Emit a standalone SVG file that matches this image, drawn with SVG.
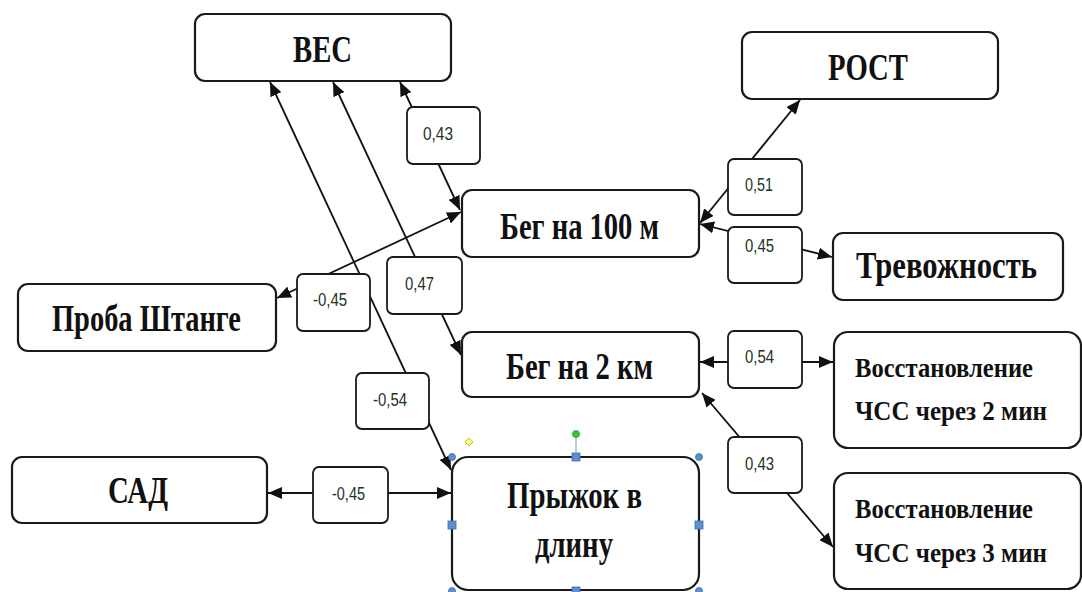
<svg xmlns="http://www.w3.org/2000/svg" width="1082" height="592" viewBox="0 0 1082 592">
  <style>
    .node rect { fill: #fff; stroke: #1a1a1a; stroke-width: 2.2; }
    .node text { font-family: "Liberation Serif", "Times New Roman", serif; font-weight: bold; font-size: 38px; fill: #111; }
    .node text.small { font-size: 28px; }
    .lbl rect { fill: #fff; stroke: #1a1a1a; stroke-width: 1.8; }
    .lbl text { font-family: "Liberation Sans", Arial, sans-serif; font-size: 18px; fill: #223322; }
    .edge { stroke: #111; stroke-width: 1.8; fill: none; marker-start: url(#arrow); marker-end: url(#arrow); }
    .handle { fill: #5b8fd0; stroke: #3d6fb0; stroke-width: 0.8; }
  </style>
  <defs>
    <marker id="arrow" viewBox="0 0 14 12" refX="14" refY="6" markerWidth="14" markerHeight="12" markerUnits="userSpaceOnUse" orient="auto-start-reverse">
      <path d="M0,0 L14,6 L0,12 z" fill="#111"/>
    </marker>
  </defs>
  <rect width="1082" height="592" fill="#fff"/>

  <!-- connectors (correlation links, arrowheads at both ends) -->
  <g id="connectors">
    <line class="edge" x1="460" y1="210" x2="400" y2="82"/>
    <line class="edge" x1="451" y1="470" x2="270" y2="82"/>
    <line class="edge" x1="461" y1="355" x2="333" y2="82"/>
    <line class="edge" x1="461" y1="212" x2="277" y2="298"/>
    <line class="edge" x1="700" y1="223" x2="800" y2="100"/>
    <line class="edge" x1="700" y1="224" x2="832" y2="257"/>
    <line class="edge" x1="700" y1="362" x2="833" y2="362"/>
    <line class="edge" x1="702" y1="393" x2="833" y2="547"/>
    <line class="edge" x1="268" y1="493" x2="451" y2="493"/>
  </g>

  <!-- coefficient labels on the links -->
  <g id="labels">
    <g class="lbl"><rect x="407" y="107" width="73" height="57" rx="6"/><text x="423" y="140" textLength="30" lengthAdjust="spacingAndGlyphs">0,43</text></g>
    <g class="lbl"><rect x="356" y="373" width="73" height="56" rx="6"/><text x="373" y="406" textLength="34" lengthAdjust="spacingAndGlyphs">-0,54</text></g>
    <g class="lbl"><rect x="387" y="257" width="75" height="57" rx="6"/><text x="405" y="290" textLength="29" lengthAdjust="spacingAndGlyphs">0,47</text></g>
    <g class="lbl"><rect x="297" y="274" width="73" height="57" rx="6"/><text x="313" y="306" textLength="34" lengthAdjust="spacingAndGlyphs">-0,45</text></g>
    <g class="lbl"><rect x="728" y="159" width="74" height="56" rx="6"/><text x="745" y="191" textLength="28" lengthAdjust="spacingAndGlyphs">0,51</text></g>
    <g class="lbl"><rect x="728" y="227" width="74" height="56" rx="6"/><text x="745" y="252" textLength="29" lengthAdjust="spacingAndGlyphs">0,45</text></g>
    <g class="lbl"><rect x="728" y="331" width="74" height="57" rx="6"/><text x="745" y="363" textLength="29" lengthAdjust="spacingAndGlyphs">0,54</text></g>
    <g class="lbl"><rect x="728" y="437" width="74" height="56" rx="6"/><text x="745" y="470" textLength="29" lengthAdjust="spacingAndGlyphs">0,43</text></g>
    <g class="lbl"><rect x="313" y="467" width="75" height="56" rx="6"/><text x="332" y="500" textLength="33" lengthAdjust="spacingAndGlyphs">-0,45</text></g>
  </g>

  <!-- nodes -->
  <g id="node-ves" class="node">
    <rect x="195" y="14" width="256" height="67" rx="10"/>
    <text x="293" y="62" textLength="59" lengthAdjust="spacingAndGlyphs">ВЕС</text>
  </g>
  <g id="node-rost" class="node">
    <rect x="742" y="32" width="256" height="67" rx="10"/>
    <text x="828" y="80" textLength="80" lengthAdjust="spacingAndGlyphs">РОСТ</text>
  </g>
  <g id="node-beg100" class="node">
    <rect x="462" y="190" width="237" height="67" rx="10"/>
    <text x="500" y="239" textLength="159" lengthAdjust="spacingAndGlyphs">Бег на 100 м</text>
  </g>
  <g id="node-trevozhnost" class="node">
    <rect x="833" y="233" width="230" height="67" rx="10"/>
    <text x="856" y="278" textLength="181" lengthAdjust="spacingAndGlyphs">Тревожность</text>
  </g>
  <g id="node-shtange" class="node">
    <rect x="18" y="284" width="258" height="67" rx="10"/>
    <text x="52" y="331" textLength="189" lengthAdjust="spacingAndGlyphs">Проба Штанге</text>
  </g>
  <g id="node-beg2km" class="node">
    <rect x="462" y="332" width="237" height="65" rx="10"/>
    <text x="506" y="379" textLength="147" lengthAdjust="spacingAndGlyphs">Бег на 2 км</text>
  </g>
  <g id="node-vosst2" class="node">
    <rect x="834" y="332" width="247" height="116" rx="14"/>
    <text class="small" x="855" y="377" textLength="178" lengthAdjust="spacingAndGlyphs">Восстановление</text>
    <text class="small" x="855" y="420" textLength="192" lengthAdjust="spacingAndGlyphs">ЧСС через 2 мин</text>
  </g>
  <g id="node-vosst3" class="node">
    <rect x="834" y="473" width="247" height="116" rx="14"/>
    <text class="small" x="855" y="518" textLength="178" lengthAdjust="spacingAndGlyphs">Восстановление</text>
    <text class="small" x="855" y="562" textLength="192" lengthAdjust="spacingAndGlyphs">ЧСС через 3 мин</text>
  </g>
  <g id="node-sad" class="node">
    <rect x="12" y="457" width="255" height="66" rx="10"/>
    <text x="108" y="503" textLength="60" lengthAdjust="spacingAndGlyphs">САД</text>
  </g>
  <g id="node-pryzhok" class="node">
    <rect x="452" y="457" width="247" height="133" rx="16"/>
    <text x="507" y="508" textLength="135" lengthAdjust="spacingAndGlyphs">Прыжок в</text>
    <text x="535" y="557" textLength="78" lengthAdjust="spacingAndGlyphs">длину</text>
  </g>

  <!-- editor selection handles around the long-jump shape -->
  <g id="selection">
    <line x1="576" y1="438" x2="576" y2="453" stroke="#8899aa" stroke-width="1"/>
    <circle cx="576" cy="434" r="3.5" fill="#33cc33" stroke="#229922" stroke-width="0.8"/>
    <path d="M469,438 L473,442 L469,446 L465,442 z" fill="#ffff66" stroke="#aaa833" stroke-width="0.8"/>
    <circle class="handle" cx="452" cy="457" r="3.5"/>
    <circle class="handle" cx="699" cy="457" r="3.5"/>
    <circle class="handle" cx="452" cy="591" r="3.5"/>
    <circle class="handle" cx="699" cy="591" r="3.5"/>
    <rect class="handle" x="572" y="453" width="8" height="8"/>
    <rect class="handle" x="448" y="521" width="8" height="8"/>
    <rect class="handle" x="695" y="521" width="8" height="8"/>
    <rect class="handle" x="572" y="587" width="8" height="8"/>
  </g>
</svg>
